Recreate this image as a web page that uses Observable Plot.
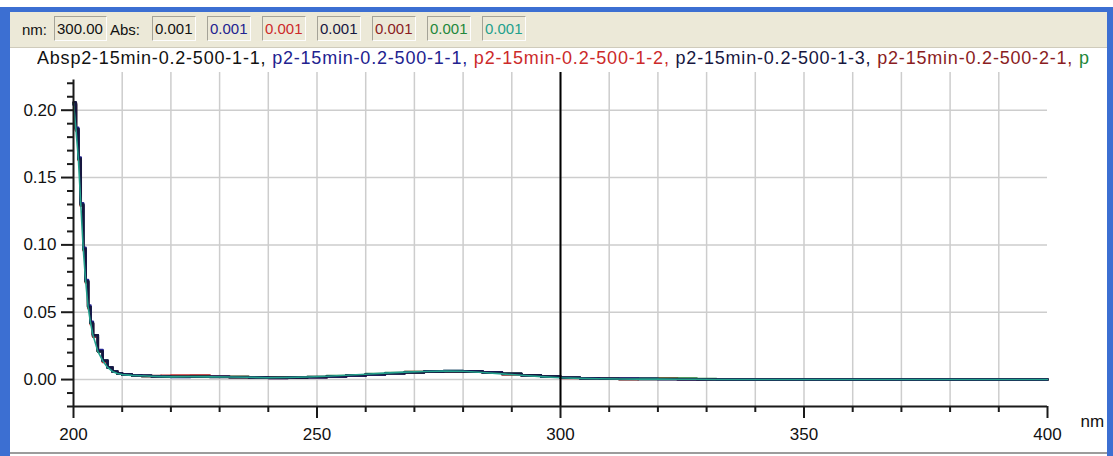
<!DOCTYPE html>
<html><head><meta charset="utf-8">
<script src="https://cdn.jsdelivr.net/npm/d3@7"></script>
<script src="https://cdn.jsdelivr.net/npm/@observablehq/plot@0.6"></script>
<style>
body{margin:0;background:#fff;}
#page{position:relative;width:1113px;height:456px;overflow:hidden;background:#fff;font-family:"Liberation Sans",Arial,sans-serif;}
.blue{position:absolute;background:#3c6fd2;}
#toolbar{position:absolute;left:10px;top:12px;width:1097px;height:35px;background:#ece9d8;border-bottom:1px solid #cfcbbb;}
.tlabel{position:absolute;top:9px;font-size:15px;color:#111;}
.box{position:absolute;top:4px;height:25px;box-sizing:border-box;border:1px solid;border-color:#a5a397 #fdfdfd #fdfdfd #a5a397;font-size:15px;line-height:23px;padding-left:2px;}
#legend{position:absolute;left:37px;top:48px;width:1060px;height:24px;overflow:hidden;white-space:nowrap;font-size:18px;letter-spacing:0.8px;}
#plot{position:absolute;left:0;top:0;}
#bottomline{position:absolute;left:10px;top:452px;width:1097px;height:2px;background:#9c9c9c;}
</style>
</head><body>
<div id="page">
  <div class="blue" style="left:0;top:7px;width:1113px;height:5px"></div>
  <div class="blue" style="left:0;top:7px;width:10px;height:449px"></div>
  <div class="blue" style="left:1107px;top:7px;width:6px;height:449px"></div>
  <div id="toolbar"></div>
  <div id="legend"></div>
  <div id="bottomline"></div>
  <div id="plot"></div>
</div>
<script>
// ---- data ----
const wavelengths = [200,200.5,201,201.5,202,202.5,203,203.5,204,205,206,207,208,209,210,212,214,216,218,220,224,228,232,236,240,244,248,252,256,260,264,268,272,276,280,284,288,292,296,300,304,308,312,316,320,324,328,332,340,360,380,400];

const absBlack  = [0.205,0.186,0.164,0.130,0.097,0.073,0.054,0.042,0.033,0.021,0.014,0.009,0.006,0.0045,0.0037,0.0031,0.0028,0.0025,0.0022,0.0020,0.0021,0.0020,0.0019,0.0017,0.0013,0.0014,0.0018,0.0024,0.0031,0.0039,0.0047,0.0054,0.0059,0.0062,0.0061,0.0052,0.0041,0.0031,0.0021,0.0013,0.0009,0.0006,0.0004,0.0004,0.0003,0.0003,0.0002,0.0002,0.0001,0.0001,0.0001,0.0001];
const absBlue   = [0.204,0.187,0.165,0.131,0.098,0.074,0.055,0.043,0.033,0.022,0.014,0.009,0.006,0.0046,0.0038,0.0032,0.0029,0.0024,0.0021,0.0019,0.0020,0.0021,0.0018,0.0016,0.0012,0.0013,0.0017,0.0023,0.0030,0.0038,0.0046,0.0055,0.0061,0.0064,0.0063,0.0054,0.0042,0.0032,0.0022,0.0014,0.0010,0.0007,0.0008,0.0006,0.0003,0.0002,0.0002,0.0001,0.0001,0.0001,0.0000,0.0000];
const absRed    = [0.205,0.185,0.163,0.129,0.096,0.072,0.053,0.041,0.032,0.021,0.013,0.009,0.006,0.0044,0.0036,0.0030,0.0027,0.0025,0.0028,0.0030,0.0031,0.0024,0.0019,0.0016,0.0014,0.0015,0.0018,0.0024,0.0031,0.0040,0.0048,0.0056,0.0060,0.0062,0.0060,0.0051,0.0040,0.0030,0.0020,0.0012,0.0008,0.0005,0.0004,0.0007,0.0009,0.0004,0.0002,0.0001,0.0001,0.0001,0.0000,0.0000];
const absNavy   = [0.206,0.186,0.164,0.130,0.097,0.073,0.054,0.042,0.033,0.021,0.014,0.009,0.006,0.0045,0.0038,0.0031,0.0027,0.0024,0.0021,0.0020,0.0020,0.0019,0.0018,0.0016,0.0013,0.0014,0.0019,0.0025,0.0032,0.0040,0.0046,0.0053,0.0058,0.0061,0.0060,0.0053,0.0043,0.0033,0.0023,0.0014,0.0009,0.0006,0.0005,0.0003,0.0003,0.0002,0.0002,0.0001,0.0001,0.0001,0.0001,0.0000];
const absMaroon = [0.205,0.185,0.164,0.129,0.097,0.073,0.054,0.042,0.032,0.021,0.014,0.009,0.006,0.0045,0.0037,0.0030,0.0028,0.0026,0.0024,0.0022,0.0027,0.0022,0.0018,0.0015,0.0012,0.0014,0.0018,0.0023,0.0030,0.0039,0.0048,0.0055,0.0059,0.0061,0.0060,0.0052,0.0041,0.0031,0.0021,0.0013,0.0009,0.0006,0.0004,0.0005,0.0006,0.0003,0.0002,0.0001,0.0001,0.0000,0.0000,0.0000];
const absGreen  = [0.205,0.186,0.164,0.130,0.097,0.073,0.054,0.042,0.033,0.021,0.014,0.009,0.006,0.0045,0.0037,0.0030,0.0027,0.0025,0.0023,0.0022,0.0022,0.0020,0.0019,0.0017,0.0014,0.0016,0.0020,0.0026,0.0033,0.0041,0.0049,0.0056,0.0061,0.0064,0.0063,0.0055,0.0043,0.0032,0.0022,0.0013,0.0009,0.0006,0.0005,0.0008,0.0006,0.0008,0.0004,0.0002,0.0001,0.0001,0.0001,0.0001];
const absTeal   = [0.205,0.186,0.164,0.130,0.097,0.073,0.054,0.042,0.033,0.021,0.014,0.009,0.006,0.0045,0.0037,0.0031,0.0028,0.0025,0.0022,0.0020,0.0021,0.0020,0.0019,0.0017,0.0014,0.0015,0.0019,0.0025,0.0032,0.0040,0.0048,0.0055,0.0060,0.0063,0.0062,0.0053,0.0042,0.0032,0.0022,0.0013,0.0009,0.0006,0.0004,0.0003,0.0003,0.0002,0.0002,0.0001,0.0001,0.0001,0.0001,0.0001];

// legend labels as shown in the window (the last one is cut off to "p")
const legendLabels = ["p2-15min-0.2-500-1-1","p2-15min-0.2-500-1-1","p2-15min-0.2-500-1-2","p2-15min-0.2-500-1-3","p2-15min-0.2-500-2-1","p"];
const seriesColors = ["#111111","#22228f","#cc2a2a","#16163f","#8a1c22","#22873a","#23a08c"];
const seriesValues = [absBlack, absBlue, absRed, absNavy, absMaroon, absGreen, absTeal];
const drawOrder    = [2, 4, 0, 5, 1, 3, 6];

const cursorNm = 300.00;
const readouts = ["0.001","0.001","0.001","0.001","0.001","0.001","0.001"];

const xMajorTicks = [200,250,300,350,400];
const xMinorTicks = [210,220,230,240,260,270,280,290,310,320,330,340,360,370,380,390];
const xGridLines  = [210,220,230,240,250,260,270,280,290,300,310,320,330,340,350,360,370,380,390];
const yMajorTicks = [0.00,0.05,0.10,0.15,0.20];
const yMinorTicks = [-0.02,-0.01,0.01,0.02,0.03,0.04,0.06,0.07,0.08,0.09,0.11,0.12,0.13,0.14,0.16,0.17,0.18,0.19,0.21,0.22];

// ---- toolbar ----
const tb = document.getElementById("toolbar");
function add(parent, cls, text, left, width, color){
  const d = document.createElement("div");
  d.className = cls; d.textContent = text; d.style.left = left + "px";
  if (width) d.style.width = width + "px";
  if (color) d.style.color = color;
  parent.appendChild(d); return d;
}
add(tb, "tlabel", "nm:", 12);
add(tb, "box", cursorNm.toFixed(2), 44, 53, "#111");
add(tb, "tlabel", "Abs:", 100);
readouts.forEach((v, i) => add(tb, "box", v, 142 + i * 55, 44, seriesColors[i]));

// ---- legend line ----
const lg = document.getElementById("legend");
const absSpan = document.createElement("span");
absSpan.textContent = "Abs"; absSpan.style.color = "#111";
lg.appendChild(absSpan);
legendLabels.forEach((n, i) => {
  const s = document.createElement("span");
  s.textContent = n + (i < legendLabels.length - 1 ? ", " : "");
  s.style.color = seriesColors[i];
  lg.appendChild(s);
});

// ---- chart ----
const rows = [];
seriesValues.forEach((vals, si) => wavelengths.forEach((w, i) => rows.push({nm: w, abs: vals[i], s: si})));

const lineMarks = drawOrder.map(si => Plot.line(rows.filter(r => r.s === si), {
  x: "nm", y: "abs", stroke: seriesColors[si],
  strokeWidth: si === 6 ? 1.6 : 2.4,
  curve: si === 6 ? "linear" : "step-after"
}));

const chart = Plot.plot({
  width: 1113, height: 456,
  marginLeft: 73, marginRight: 66, marginTop: 72, marginBottom: 50,
  x: {domain: [200, 400], axis: null},
  y: {domain: [-0.02, 0.228], axis: null},
  style: {background: "transparent", fontFamily: "Liberation Sans, Arial, sans-serif", fontSize: "17px", color: "#111", overflow: "visible"},
  marks: [
    Plot.ruleY(yMajorTicks, {stroke: "#cdcdcd", strokeWidth: 1.5}),
    Plot.ruleX(xGridLines, {stroke: "#cdcdcd", strokeWidth: 1.5}),
    ...lineMarks,
    Plot.ruleX([cursorNm], {stroke: "#000", strokeWidth: 2}),
    Plot.ruleX([200], {y1: -0.02, y2: 0.2225, stroke: "#1a1a1a", strokeWidth: 2}),
    Plot.ruleY([-0.02], {x1: 200, x2: 400, stroke: "#1a1a1a", strokeWidth: 2}),
    Plot.axisX({ticks: xMajorTicks, tickSize: 12, tickPadding: 9, tickFormat: d => String(d), label: null, stroke: "#1a1a1a", strokeWidth: 2, fontSize: 17}),
    Plot.axisX({ticks: xMinorTicks, tickSize: 6, tickFormat: () => "", label: null, stroke: "#1a1a1a", strokeWidth: 2}),
    Plot.axisY({ticks: yMajorTicks, tickSize: 12, tickPadding: 5, tickFormat: d3.format(".2f"), label: null, stroke: "#1a1a1a", strokeWidth: 2, fontSize: 17}),
    Plot.axisY({ticks: yMinorTicks, tickSize: 6, tickFormat: () => "", label: null, stroke: "#1a1a1a", strokeWidth: 2}),
    Plot.text(["nm"], {x: 400, y: -0.02, dx: 33, dy: 15, textAnchor: "start", fontSize: 17, fill: "#111"})
  ]
});
document.getElementById("plot").appendChild(chart);
</script>
</body></html>
